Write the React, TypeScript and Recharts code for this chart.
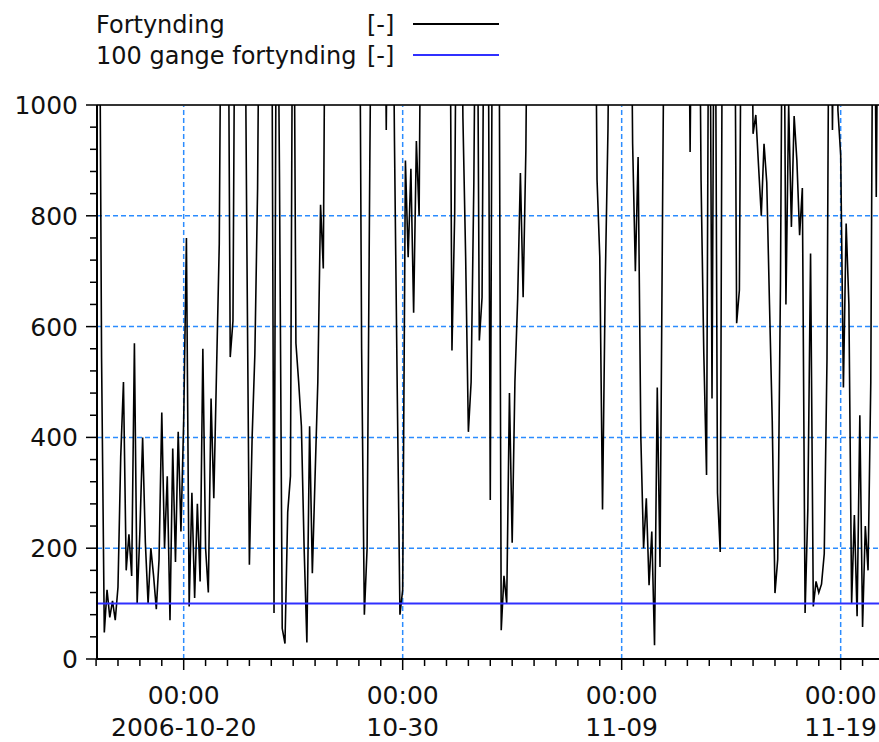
import { LineChart, Line, XAxis, YAxis, ReferenceLine } from "recharts";

// Fortynding [-], one row per day from 2006-10-16 00:00, one value every 3 hours
const STEP_HOURS = 3;
const fortyndingByDay: number[][] = [
  [1500, 1500, 545, 48, 125, 75, 105, 70],
  [130, 365, 500, 160, 225, 150, 570, 100],
  [230, 400, 210, 100, 200, 150, 90, 180],
  [445, 200, 330, 70, 380, 175, 410, 230],
  [430, 760, 95, 300, 110, 280, 140, 560],
  [200, 120, 470, 290, 520, 750, 1500, 1500],
  [1500, 545, 610, 1500, 1500, 1500, 1500, 800],
  [170, 400, 550, 850, 1500, 1500, 1500, 1500],
  [1500, 83, 1500, 870, 55, 28, 265, 330],
  [1500, 570, 500, 420, 200, 30, 420, 155],
  [330, 500, 820, 705, 1500, 1500, 1500, 1500],
  [1500, 1500, 1500, 1500, 1500, 1500, 1500, 1500],
  [1500, 560, 80, 200, 900, 1500, 1500, 1500],
  [1500, 1500, 955, 1500, 1500, 935, 490, 80],
  [125, 900, 725, 885, 625, 935, 800, 1500],
  [1500, 1500, 1500, 1500, 1500, 1500, 1500, 1500],
  [1500, 1500, 557, 805, 1500, 1500, 978, 726],
  [410, 500, 860, 1500, 575, 653, 1500, 1500],
  [287, 1500, 1500, 1500, 52, 150, 100, 480],
  [210, 500, 650, 877, 653, 918, 1500, 1500],
  [1500, 1500, 1500, 1500, 1500, 1500, 1500, 1500],
  [1500, 1500, 1500, 1500, 1500, 1500, 1500, 1500],
  [1500, 1500, 1500, 1500, 1500, 1500, 1500, 865],
  [726, 270, 680, 958, 1500, 1500, 1500, 1500],
  [1500, 1500, 1500, 1500, 930, 700, 906, 400],
  [200, 290, 133, 230, 25, 490, 166, 858],
  [1500, 1500, 1500, 1500, 1500, 1500, 1500, 1500],
  [1500, 915, 1500, 1500, 1500, 864, 552, 332],
  [1500, 470, 1500, 300, 193, 1500, 1500, 1500],
  [1500, 1500, 606, 666, 1500, 1500, 1500, 1500],
  [948, 982, 890, 800, 930, 860, 640, 430],
  [119, 180, 675, 1500, 640, 1000, 780, 980],
  [900, 765, 850, 83, 270, 732, 95, 140],
  [120, 135, 190, 540, 1500, 955, 1500, 990],
  [910, 490, 786, 640, 100, 260, 77, 440],
  [58, 240, 160, 500, 1500, 834, 1500],
];

// 100 gange fortynding [-]
const limitValue = 100;

// x axis: hours since 2006-10-16 00:00
const dayTicks = Array.from({ length: 36 }, (_, i) => i * 24);
const majorHours = [96, 336, 576, 816];
const majorTimeLabels = ["00:00", "00:00", "00:00", "00:00"];
const majorDateLabels = ["2006-10-20", "10-30", "11-09", "11-19"];

// y axis
const yMinorTicks = Array.from({ length: 26 }, (_, i) => i * 40);
const yMajorTicks = [0, 200, 400, 600, 800, 1000];
const gridValues = [200, 400, 600, 800];

const data = fortyndingByDay.flat().map((v, i) => ({
  h: i * STEP_HOURS,
  fortynding: v,
  gange100: limitValue,
}));

const FONT = "'DejaVu Sans', Verdana, sans-serif";
const GRID = "#2b8cff";

const XTick = (props: any) => {
  const { x, y, payload } = props;
  const idx = majorHours.indexOf(payload.value);
  const major = idx >= 0;
  return (
    <g>
      <line x1={x} x2={x} y1={y} y2={y + (major ? 11 : 7)} stroke="#000" strokeWidth={1.5} />
      {major && (
        <g fontFamily={FONT} fontSize={25} fill="#111" textAnchor="middle">
          <text x={x} y={y + 45}>{majorTimeLabels[idx]}</text>
          <text x={x} y={y + 77}>{majorDateLabels[idx]}</text>
        </g>
      )}
    </g>
  );
};

const YTick = (props: any) => {
  const { x, y, payload } = props;
  const major = yMajorTicks.includes(payload.value);
  return (
    <g>
      <line x1={x - (major ? 11 : 7)} x2={x} y1={y} y2={y} stroke="#000" strokeWidth={1.5} />
      {major && (
        <text x={x - 19} y={y + 9} fontFamily={FONT} fontSize={25} fill="#111" textAnchor="end">
          {payload.value}
        </text>
      )}
    </g>
  );
};

export default function App() {
  return (
    <div style={{ position: "absolute", left: 0, top: 0, width: 879, height: 742, background: "#fff" }}>
      <svg width={520} height={75} style={{ position: "absolute", left: 0, top: 0 }}>
        <g fontFamily={FONT} fontSize={24} fill="#111">
          <text x={96} y={33}>Fortynding</text>
          <text x={367} y={33}>[-]</text>
          <text x={96} y={64}>100 gange fortynding</text>
          <text x={367} y={64}>[-]</text>
        </g>
        <line x1={413} x2={499} y1={24} y2={24} stroke="#000" strokeWidth={2} />
        <line x1={413} x2={499} y1={55} y2={55} stroke="#3030ff" strokeWidth={2} />
      </svg>
      <LineChart
        width={879}
        height={742}
        data={data}
        margin={{ top: 105, right: 0, bottom: 0, left: 0 }}
        style={{ position: "absolute", left: 0, top: 0 }}
      >
        <XAxis
          dataKey="h"
          type="number"
          domain={[1, 858]}
          allowDataOverflow
          ticks={dayTicks}
          interval={0}
          height={83}
          tickSize={0}
          tickMargin={0}
          tick={<XTick />}
          axisLine={{ stroke: "#000", strokeWidth: 2 }}
        />
        <YAxis
          type="number"
          domain={[0, 1000]}
          allowDataOverflow
          ticks={yMinorTicks}
          interval={0}
          width={97}
          tickSize={0}
          tickMargin={0}
          tick={<YTick />}
          axisLine={{ stroke: "#000", strokeWidth: 2 }}
        />
        {gridValues.map((v) => (
          <ReferenceLine key={`gy${v}`} y={v} stroke={GRID} strokeDasharray="5 3" strokeWidth={1.5} />
        ))}
        {majorHours.map((h) => (
          <ReferenceLine key={`gx${h}`} x={h} stroke={GRID} strokeDasharray="5 3" strokeWidth={1.5} />
        ))}
        <ReferenceLine y={1000} stroke="#333" strokeWidth={2} />
        <Line
          type="linear"
          dataKey="fortynding"
          stroke="#000"
          strokeWidth={1.6}
          dot={false}
          isAnimationActive={false}
        />
        <Line
          type="linear"
          dataKey="gange100"
          stroke="#3030ff"
          strokeWidth={2}
          dot={false}
          isAnimationActive={false}
        />
      </LineChart>
    </div>
  );
}
